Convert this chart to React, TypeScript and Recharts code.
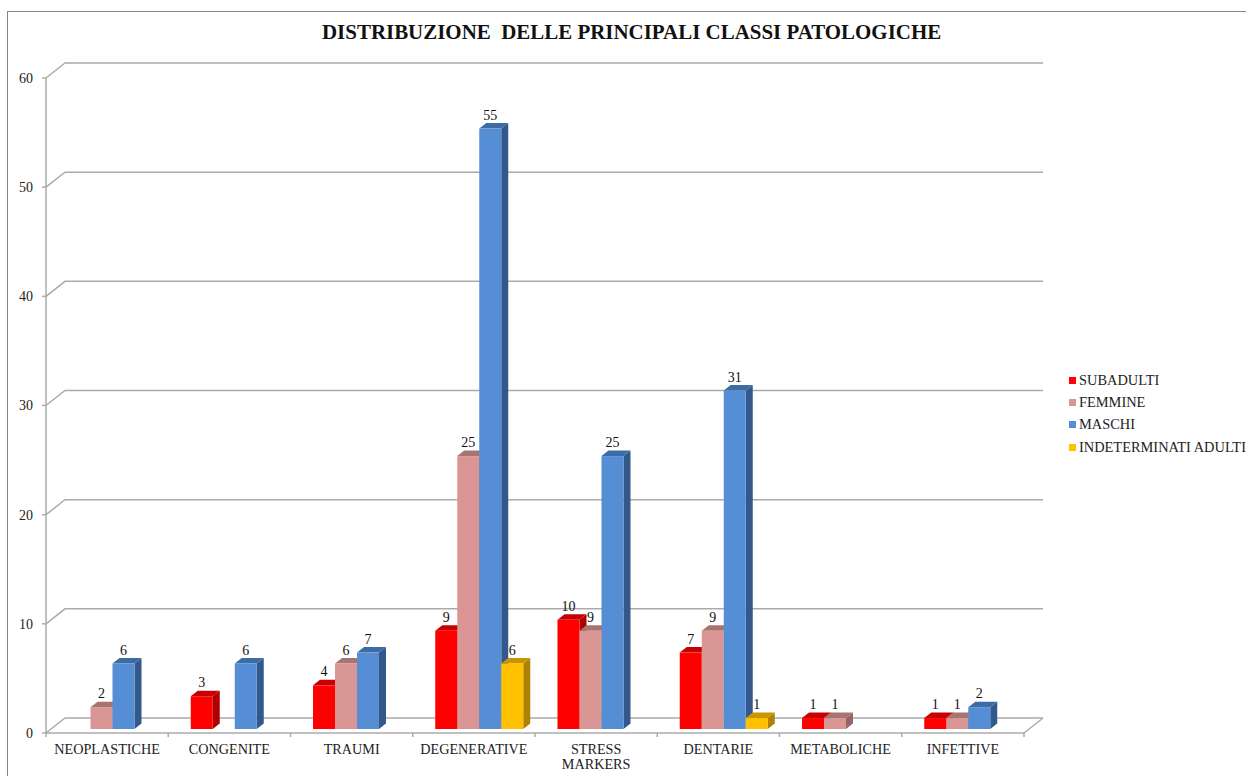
import React from "react";
import { BarChart, Bar, XAxis, YAxis, CartesianGrid, Legend, LabelList } from "recharts";

// Chart values, one list per series, in category order.
const categories = ["NEOPLASTICHE", "CONGENITE", "TRAUMI", "DEGENERATIVE", "STRESS MARKERS", "DENTARIE", "METABOLICHE", "INFETTIVE"];
const subadulti = [null, 3, 4, 9, 10, 7, 1, 1];
const femmine = [2, null, 6, 25, 9, 9, 1, 1];
const maschi = [6, 6, 7, 55, 25, 31, null, 2];
const indeterminati = [null, null, null, 6, null, 1, null, null];
const yTicks = [0, 10, 20, 30, 40, 50, 60];

const rows = categories.map((name, i) => ({
  name,
  subadulti: subadulti[i],
  femmine: femmine[i],
  maschi: maschi[i],
  indeterminati: indeterminati[i],
}));

const FONT = "'Liberation Serif', 'Times New Roman', serif";
const WIDTH = 1246;
const HEIGHT = 776;
const PLOT = { left: 46, right: 1024, top: 78, bottom: 733 };
const BAND = (PLOT.right - PLOT.left) / categories.length;

// Offsets of the pseudo-3D look: back wall, bar lift and bar depth.
const WALL = { dx: 19, dy: 15 };
const LIFT = { dx: 5.5, dy: 4 };
const DEPTH = { dx: 7, dy: 5.5 };
const GRID = "#ABABAB";
const INK = "#222222";

const GridLine = (p: any) => {
  const { x1, x2, y1 } = p;
  const floor = Math.abs(y1 - PLOT.bottom) < 1;
  return (
    <g fill="none" stroke={GRID} strokeWidth={1.5}>
      <polyline points={`${x1},${y1} ${x1 + WALL.dx},${y1 - WALL.dy} ${x2 + WALL.dx},${y1 - WALL.dy}`} />
      {floor && <line x1={x2} y1={y1} x2={x2 + WALL.dx} y2={y1 - WALL.dy} />}
    </g>
  );
};

const box3d = (sideFill: string, topFill: string) => (p: any) => {
  const { x, y, width, height, fill } = p;
  if (!height || height <= 0) return <g />;
  const l = x + LIFT.dx;
  const r = l + width;
  const t = y - LIFT.dy;
  const b = t + height;
  const { dx, dy } = DEPTH;
  return (
    <g>
      <polygon points={`${r},${t} ${r + dx},${t - dy} ${r + dx},${b - dy} ${r},${b}`} fill={sideFill} />
      <polygon points={`${l},${t} ${l + dx},${t - dy} ${r + dx},${t - dy} ${r},${t}`} fill={topFill} />
      <rect x={l} y={t} width={width} height={height} fill={fill} />
    </g>
  );
};

const valueLabel = (p: any) => {
  const { x, y, width, value } = p;
  if (value === null || value === undefined) return <g />;
  return (
    <text x={x + LIFT.dx + width / 2} y={y - LIFT.dy - 9} textAnchor="middle" fontFamily={FONT} fontSize={14} fill="#111111">
      {value}
    </text>
  );
};

const CategoryTick = (p: any) => {
  const { x, payload, index } = p;
  const text: string = payload.value;
  const lines = text.length > 13 ? text.split(" ") : [text];
  const left = x - BAND / 2;
  return (
    <g>
      <line x1={left} y1={PLOT.bottom} x2={left} y2={PLOT.bottom + 4} stroke={GRID} strokeWidth={1.5} />
      {index === categories.length - 1 && (
        <line x1={left + BAND} y1={PLOT.bottom} x2={left + BAND} y2={PLOT.bottom + 4} stroke={GRID} strokeWidth={1.5} />
      )}
      {lines.map((line, i) => (
        <text key={line} x={x} y={PLOT.bottom + 21 + i * 15} textAnchor="middle" fontFamily={FONT} fontSize={14.2} fill={INK}>
          {line}
        </text>
      ))}
    </g>
  );
};

const LegendBox = (p: any) => (
  <div style={{ fontFamily: FONT, fontSize: 14.4, color: INK }}>
    {p.payload.map((item: any) => (
      <div key={item.value} style={{ display: "flex", alignItems: "center", height: 22.4, whiteSpace: "nowrap" }}>
        <span style={{ width: 7, height: 7, background: item.color, marginRight: 3, flex: "none" }} />
        {item.value}
      </div>
    ))}
  </div>
);

export default function App() {
  return (
    <div style={{ position: "fixed", left: 0, top: 0, width: WIDTH, height: HEIGHT, background: "#fff", overflow: "hidden" }}>
      <div style={{ position: "absolute", left: 7, top: 11, right: -2, bottom: -2, border: "1px solid #868686" }} />
      <div
        style={{
          position: "absolute",
          left: 322,
          top: 19,
          whiteSpace: "pre",
          fontFamily: FONT,
          fontWeight: 700,
          fontSize: 20.95,
          lineHeight: "26px",
          color: "#111",
        }}
      >
        DISTRIBUZIONE  DELLE PRINCIPALI CLASSI PATOLOGICHE
      </div>
      <BarChart
        width={WIDTH}
        height={HEIGHT}
        data={rows}
        barSize={22}
        barGap={0}
        barCategoryGap={17}
        margin={{ top: PLOT.top, left: 0, right: WIDTH - PLOT.right, bottom: 0 }}
        style={{ position: "absolute", left: 0, top: 0 }}
      >
        <CartesianGrid vertical={false} horizontal={GridLine} />
        <XAxis
          dataKey="name"
          height={HEIGHT - PLOT.bottom}
          interval={0}
          tickLine={false}
          axisLine={{ stroke: GRID, strokeWidth: 1.5 }}
          tick={CategoryTick}
        />
        <YAxis
          width={PLOT.left}
          domain={[0, 60]}
          ticks={yTicks}
          interval={0}
          tickSize={4}
          tickMargin={9}
          tickLine={{ stroke: GRID, strokeWidth: 1.5 }}
          axisLine={{ stroke: GRID, strokeWidth: 1.5 }}
          tick={{ fontFamily: FONT, fontSize: 14, fill: INK }}
        />
        <Legend
          layout="vertical"
          align="center"
          verticalAlign="middle"
          itemSorter={null}
          content={LegendBox}
          wrapperStyle={{ left: 1069, top: 369, width: 177, right: "auto", bottom: "auto" }}
        />
        <Bar dataKey="subadulti" name="SUBADULTI" fill="#FF0000" shape={box3d("#AE0000", "#C80000")} isAnimationActive={false}>
          <LabelList dataKey="subadulti" content={valueLabel} />
        </Bar>
        <Bar dataKey="femmine" name="FEMMINE" fill="#D99694" shape={box3d("#93666A", "#A87472")} isAnimationActive={false}>
          <LabelList dataKey="femmine" content={valueLabel} />
        </Bar>
        <Bar dataKey="maschi" name="MASCHI" fill="#558ED5" shape={box3d("#33598C", "#3C6BA6")} isAnimationActive={false}>
          <LabelList dataKey="maschi" content={valueLabel} />
        </Bar>
        <Bar dataKey="indeterminati" name="INDETERMINATI ADULTI" fill="#FFC000" shape={box3d("#AD8300", "#C79600")} isAnimationActive={false}>
          <LabelList dataKey="indeterminati" content={valueLabel} />
        </Bar>
      </BarChart>
    </div>
  );
}
